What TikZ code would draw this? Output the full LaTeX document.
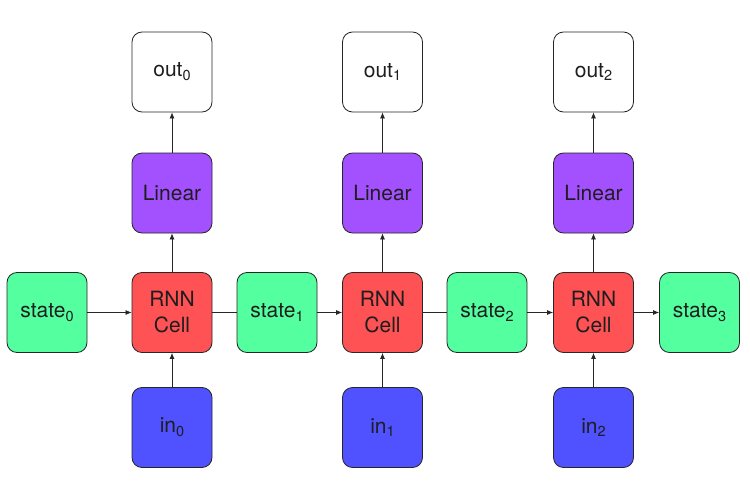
\documentclass[tikz,border=0pt]{standalone}
\usepackage{fontspec}
\setmainfont{TeX Gyre Heros}
\usetikzlibrary{arrows.meta}
\definecolor{stategreen}{RGB}{84,255,160}
\definecolor{cellred}{RGB}{255,82,84}
\definecolor{linpurple}{RGB}{163,80,255}
\definecolor{inblue}{RGB}{80,82,255}
\definecolor{txt}{RGB}{30,30,30}
\newcommand\lowidx[1]{\raisebox{-0.35ex}{\fontsize{14.5}{14.5}\selectfont #1}}
\tikzset{
  box/.style={draw=black!85, line width=0.8pt, rounded corners=10pt,
    minimum width=80pt, minimum height=80pt, inner sep=0pt,
    font=\fontsize{21}{26}\selectfont, text=txt, align=center},
  statebox/.style={box, fill=stategreen},
  cellbox/.style={box, fill=cellred},
  linbox/.style={box, fill=linpurple},
  inbox/.style={box, fill=inblue},
  outbox/.style={box, fill=white},
  conn/.style={line width=0.7pt, draw=black!85},
  arr/.style={conn, -{Latex[length=6pt,width=5pt]}}
}
\begin{document}
\begin{tikzpicture}[x=1pt,y=-1pt]
\useasboundingbox[fill=white] (0,0) rectangle (750,503);
% states
\node[statebox] (s0) at (47,312.5) {state\lowidx{0}};
\node[statebox] (s1) at (277,312.5) {state\lowidx{1}};
\node[statebox] (s2) at (487,312.5) {state\lowidx{2}};
\node[statebox] (s3) at (699.5,312.5) {state\lowidx{3}};
% columns
\foreach \i/\x in {0/172,1/382.5,2/593.5}{
  \node[cellbox] (c\i) at (\x,312.5) {RNN\\Cell};
  \node[linbox] (l\i) at (\x,193) {Linear};
  \node[outbox] (o\i) at (\x,72) {out\lowidx{\i}};
  \node[inbox] (n\i) at (\x,427.5) {in\lowidx{\i}};
  \draw[arr] (n\i) -- (c\i);
  \draw[arr] (c\i) -- (l\i);
  \draw[arr] (l\i) -- (o\i);
}
\draw[arr] (s0) -- (c0);
\draw[conn] (c0) -- (s1);
\draw[arr] (s1) -- (c1);
\draw[conn] (c1) -- (s2);
\draw[arr] (s2) -- (c2);
\draw[arr] (c2) -- (s3);
\end{tikzpicture}
\end{document}
